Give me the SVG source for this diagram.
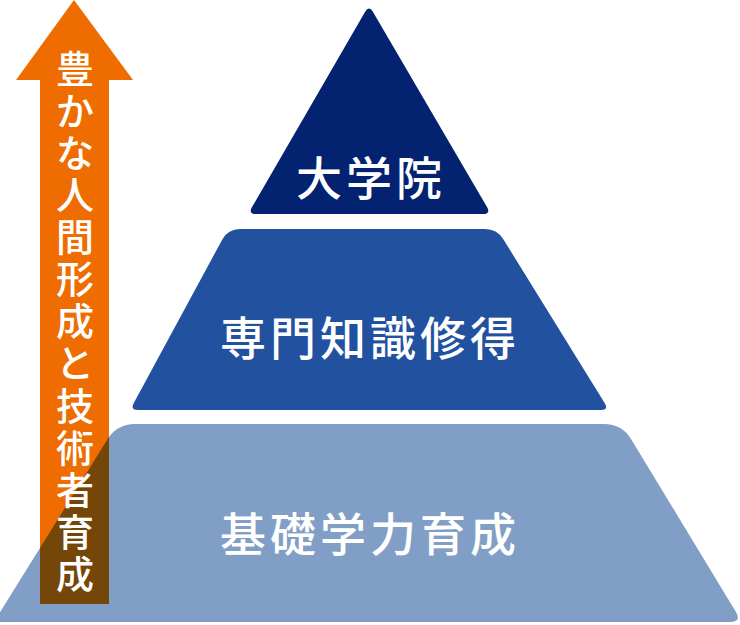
<svg xmlns="http://www.w3.org/2000/svg" width="740" height="625" viewBox="0 0 740 625">
<style>
.t{font-family:"Noto Sans CJK JP","Noto Sans CJK SC",sans-serif;fill:#fff;text-anchor:middle}
.tier{font-size:46px;font-weight:500;letter-spacing:4px}
.arr{font-size:38px;font-weight:500}
</style>
<defs>
<path id="bottomShape" d="M135,424 L604,424 Q622,424 631.3,439.4 L735.8,611.7 Q742,622 730,622 L-6,622 L107.5,439.3 Q117,424 135,424 Z"/>
<clipPath id="arrowClip"><polygon points="74,0 133,80 109,80 109,604 40,604 40,80 16,80"/></clipPath>
</defs>
<rect width="740" height="625" fill="#fff"/>
<g id="tier-bottom">
<use href="#bottomShape" fill="#819fc6"/>
</g>
<g id="tier-middle">
<path d="M240,229 L485,229 Q497,229 503.3,239.2 L604.8,403.2 Q609,410 601,410 L138,410 Q130,410 133.8,403 L222.3,239.5 Q228,229 240,229 Z" fill="#2251a0"/>
<text class="t tier" x="370" y="355">専門知識修得</text>
</g>
<g id="tier-top">
<path d="M365,11.9 Q369,5 373,11.9 L487,207.1 Q491,214 483,214 L256,214 Q248,214 252,207.1 Z" fill="#03226f"/>
<text class="t tier" x="371" y="195">大学院</text>
</g>
<g id="arrow">
<polygon points="74,0 133,80 109,80 109,604 40,604 40,80 16,80" fill="#ee6c00"/>
<use href="#bottomShape" fill="#744608" clip-path="url(#arrowClip)"/>
<text class="t arr"><tspan x="75" y="83">豊</tspan><tspan x="75" y="125">か</tspan><tspan x="75" y="167">な</tspan><tspan x="75" y="209">人</tspan><tspan x="75" y="251">間</tspan><tspan x="75" y="293">形</tspan><tspan x="75" y="335">成</tspan><tspan x="75" y="377">と</tspan><tspan x="75" y="420">技</tspan><tspan x="75" y="462">術</tspan><tspan x="75" y="504">者</tspan><tspan x="75" y="546">育</tspan><tspan x="75" y="588">成</tspan></text>
</g>
<g id="tier-bottom-label">
<text class="t tier" x="370" y="551">基礎学力育成</text>
</g>
<g id="connectors"/>
</svg>
